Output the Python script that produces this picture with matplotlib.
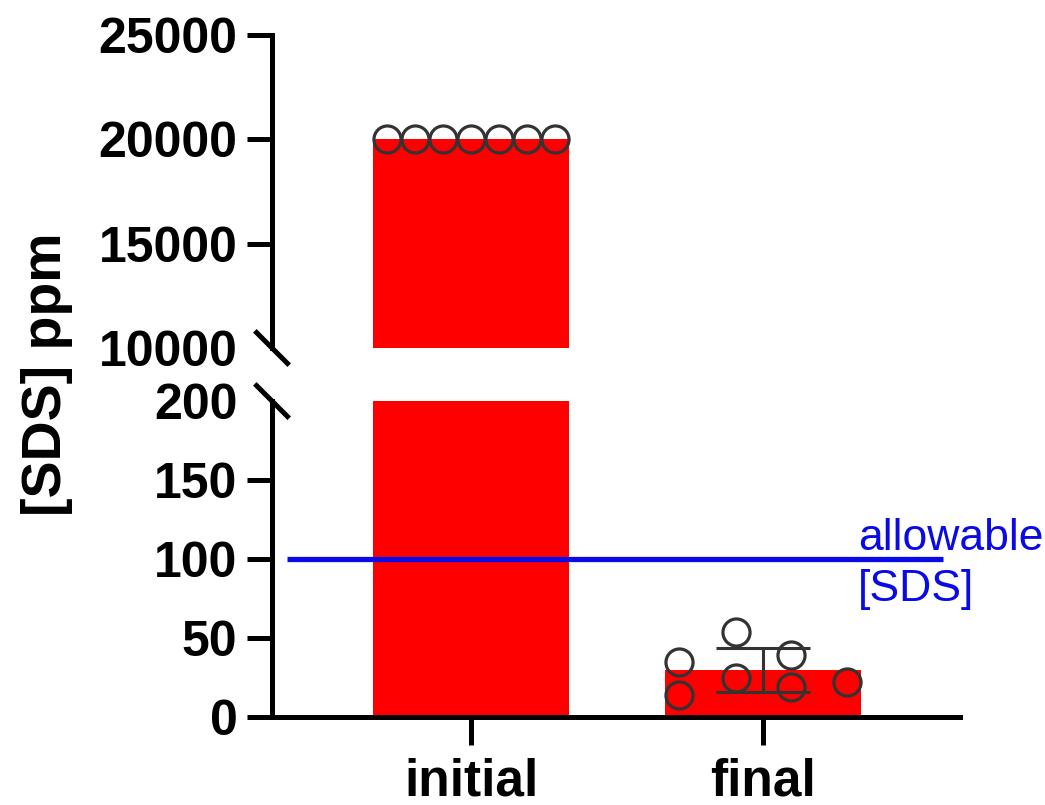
import numpy as np
import matplotlib
matplotlib.use("Agg")
import matplotlib.pyplot as plt

# data
categories = ["initial", "final"]
initial_vals = [20000, 20000, 20000, 20000, 20000, 20000, 20000]
final_vals = [35, 14, 54, 25, 39, 19, 22]
allowable = 100
upper_ticks = [10000, 15000, 20000, 25000]
lower_ticks = [0, 50, 100, 150, 200]

plt.rcParams['font.family'] = ['Liberation Sans', 'DejaVu Sans']

red = '#ff0000'
blue = '#0a0ae6'
ptcol = '#333333'
lw = 3.6

fig = plt.figure(figsize=(10.45, 8.05), dpi=100)
ax_top = fig.add_axes([0.2603, 0.5677, 0.6584, 0.3888])
ax_bot = fig.add_axes([0.2603, 0.1093, 0.6584, 0.3925])

means = [np.mean(initial_vals), np.mean(final_vals)]
sd_final = np.std(final_vals, ddof=1)
xpos = np.arange(len(categories))

# horizontal scatter of the dots (layout only)
init_off = np.array([-3, -2, -1, 0, 1, 2, 3]) * 0.096
fin_off = np.array([-0.288, -0.288, -0.092, -0.092, 0.096, 0.096, 0.288])

for ax in (ax_top, ax_bot):
    ax.bar(xpos, means, width=0.671, color=red, zorder=1)
    ax.plot(xpos[0] + init_off, initial_vals, 'o', ms=19.5, mfc='none',
            mec=ptcol, mew=2.3, zorder=3, clip_on=False)
    ax.plot(xpos[1] + fin_off, final_vals, 'o', ms=19.5, mfc='none',
            mec=ptcol, mew=2.3, zorder=3)
    ax.set_xlim(-0.6815, 1.6747)
    for s in ('top', 'right'):
        ax.spines[s].set_visible(False)
    ax.spines['left'].set_linewidth(lw)
    ax.spines['bottom'].set_linewidth(lw)
    ax.tick_params(axis='y', length=18, width=lw, pad=7)

ax_bot.errorbar(xpos[1], means[1], yerr=sd_final, fmt='none', ecolor=ptcol,
                elinewidth=2.2, capsize=34, capthick=2.2, zorder=2)

ax_bot.plot([-0.63, 1.616], [allowable, allowable], color=blue, lw=3.8,
            zorder=2, solid_capstyle='butt')
ax_bot.text(1.325, allowable - 3, "allowable\n[SDS]", color=blue, fontsize=32,
            va='center', ha='left', linespacing=1.3, clip_on=False)

ax_top.set_ylim(10000, 25000)
ax_top.set_yticks(upper_ticks)
ax_top.set_yticklabels([str(t) for t in upper_ticks], fontweight='bold', fontsize=36)
ax_top.spines['bottom'].set_visible(False)
ax_top.set_xticks([])

ax_bot.set_ylim(0, 200)
ax_bot.set_yticks(lower_ticks)
ax_bot.set_yticklabels([str(t) for t in lower_ticks], fontweight='bold', fontsize=36)
ax_bot.set_xticks(xpos)
ax_bot.set_xticklabels(categories, fontweight='bold', fontsize=37)
ax_bot.tick_params(axis='x', length=20, width=lw, pad=9)

# ticks at the break are replaced by slashes
ax_top.yaxis.get_major_ticks()[0].tick1line.set_visible(False)
ax_bot.yaxis.get_major_ticks()[-1].tick1line.set_visible(False)

# break marks
d = 0.025
kw = dict(color='k', lw=lw, clip_on=False, solid_capstyle='butt')
dx = d
dy_top = d * ax_top.get_position().width * 10.45 / (ax_top.get_position().height * 8.05)
ax_top.plot([-dx, dx], [dy_top, -dy_top], transform=ax_top.transAxes, **kw)
dy_bot = d * ax_bot.get_position().width * 10.45 / (ax_bot.get_position().height * 8.05)
ax_bot.plot([-dx, dx], [1 + dy_bot, 1 - dy_bot], transform=ax_bot.transAxes, **kw)

fig.text(0.045, 0.535, "[SDS] ppm", rotation=90, fontsize=40, fontweight='bold',
         va='center', ha='center')

fig.savefig("out.png", dpi=100)
